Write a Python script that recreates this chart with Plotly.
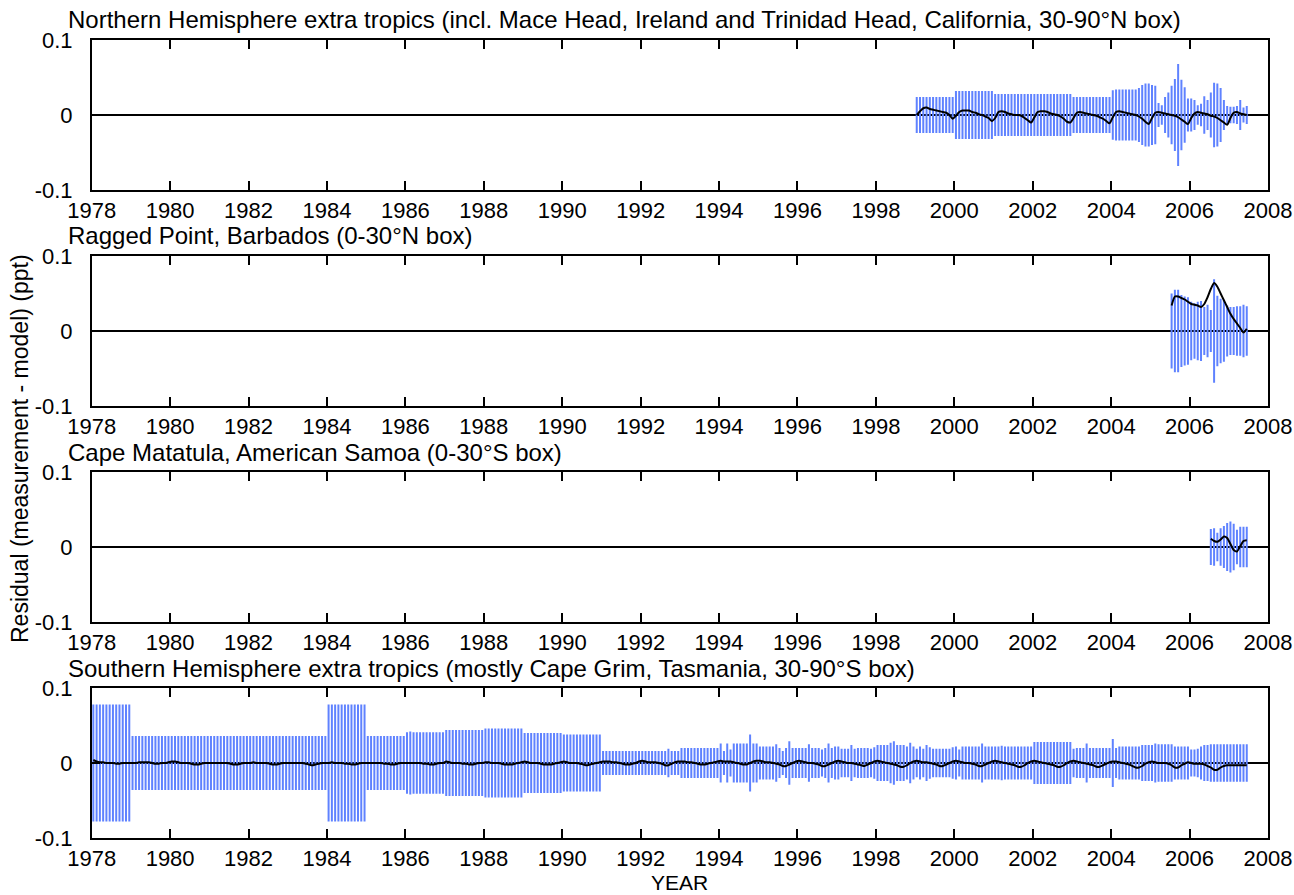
import plotly.graph_objects as go

# ---------------- data (residuals and error half-widths, units of 0.001 ppt) ----------------
X_TICKS = list(range(1978, 2009, 2))
Y_TICKS = [-0.1, 0, 0.1]
Y_TICK_TEXT = ["-0.1", "0", "0.1"]

titles = [
    "Northern Hemisphere extra tropics (incl. Mace Head, Ireland and Trinidad Head, California, 30-90°N box)",
    "Ragged Point, Barbados (0-30°N box)",
    "Cape Matatula, American Samoa (0-30°S box)",
    "Southern Hemisphere extra tropics (mostly Cape Grim, Tasmania, 30-90°S box)",
]

# Panel 1: NH extra tropics, monthly from Jan 1999
nh_start = (1999, 1)
nh_err = [
    24, 24, 24, 24, 24, 24, 24, 24, 24, 24, 24, 24,
    32, 32, 32, 32, 32, 32, 32, 32, 32, 32, 32, 32,
    28, 28, 28, 28, 28, 28, 28, 28, 28, 28, 28, 28,
    28, 28, 28, 28, 28, 28, 28, 28, 28, 28, 28, 28,
    24, 24, 24, 24, 24, 24, 24, 24, 24, 24, 24, 24,
    33, 34, 34, 34, 34, 34, 34, 34, 36, 40, 42, 42,
    40, 39, 16, 13, 24, 30, 39, 48, 68, 47, 37, 22,
    22, 20, 13, 15, 25, 20, 30, 43, 42, 36, 20, 12,
    11, 11, 12, 20, 10, 12,
]
nh_res = [
    0, 5, 9, 10, 8, 7, 6, 5, 4, 3, 0, -5,
    -1, 4, 6, 6, 6, 4, 3, 1, 0, -2, -4, -8,
    -4, 4, 5, 4, 2, 1, 0, 0, -1, -4, -7, -10,
    -3, 4, 5, 5, 4, 2, 1, 0, -2, -5, -9, -10,
    -4, 3, 4, 3, 2, 1, 0, -1, -3, -5, -8, -11,
    -3, 4, 5, 4, 3, 2, 1, 0, -2, -5, -9, -12,
    -4, 3, 4, 3, 2, 1, 0, -1, -3, -6, -9, -12,
    -4, 2, 4, 3, 2, 1, -1, -2, -4, -7, -10, -13,
    -4, 3, 4, 2, 1, 0,
]

# Panel 2: Ragged Point, monthly from Jul 2005
rp_start = (2005, 7)
rp_err = [50, 55, 55, 48, 46, 45, 39, 37, 39, 40, 32, 35,
          28, 69, 47, 43, 41, 34, 32, 32, 33, 33, 35, 33]
rp_res = [34, 46, 46, 44, 42, 39, 36, 35, 34, 32, 36, 45,
          56, 64, 59, 50, 41, 32, 23, 16, 10, 4, -2, 3]

# Panel 3: Cape Matatula, monthly from Jul 2006
cm_start = (2006, 7)
cm_err = [24, 25, 19, 25, 28, 32, 34, 31, 23, 27, 27, 27]
cm_res = [11, 8, 7, 10, 14, 12, 4, -4, -6, 1, 8, 9]

# Panel 4: SH extra tropics, monthly from Jan 1978
sh_start = (1978, 1)
sh_err = [
    78, 78, 78, 78, 78, 78, 78, 78, 78, 78, 78, 78,   # 1978
    36, 36, 36, 36, 36, 36, 36, 36, 36, 36, 36, 36,   # 1979
    36, 36, 36, 36, 36, 36, 36, 36, 36, 36, 36, 36,   # 1980
    36, 36, 36, 36, 36, 36, 36, 36, 36, 36, 36, 36,   # 1981
    36, 36, 36, 36, 36, 36, 36, 36, 36, 36, 36, 36,   # 1982
    36, 36, 36, 36, 36, 36, 36, 36, 36, 36, 36, 36,   # 1983
    78, 78, 78, 78, 78, 78, 78, 78, 78, 78, 78, 78,   # 1984
    36, 36, 36, 36, 36, 36, 36, 36, 36, 36, 36, 36,   # 1985
    41, 42, 41, 41, 41, 41, 41, 41, 41, 41, 41, 41,   # 1986
    44, 44, 44, 44, 44, 44, 44, 44, 44, 44, 44, 44,   # 1987
    46, 46, 46, 46, 46, 46, 46, 46, 46, 46, 46, 46,   # 1988
    40, 40, 40, 40, 40, 40, 40, 40, 40, 40, 40, 40,   # 1989
    38, 38, 38, 38, 38, 38, 38, 38, 38, 38, 38, 38,   # 1990
    16, 16, 16, 16, 16, 16, 16, 16, 16, 16, 16, 16,   # 1991
    16, 16, 16, 16, 16, 16, 16, 16, 19, 16, 16, 16,   # 1992
    20, 20, 20, 20, 20, 20, 20, 20, 20, 20, 20, 20,   # 1993
    26, 16, 26, 18, 26, 26, 26, 26, 26, 38, 26, 26,   # 1994
    22, 22, 22, 22, 22, 25, 20, 16, 20, 29, 20, 20,   # 1995
    20, 20, 20, 25, 20, 20, 20, 18, 20, 26, 20, 22,   # 1996
    22, 19, 19, 19, 24, 19, 20, 20, 20, 20, 19, 21,   # 1997
    24, 24, 24, 24, 27, 29, 24, 24, 24, 22, 27, 22,   # 1998
    19, 22, 19, 24, 21, 19, 19, 19, 19, 19, 19, 21,   # 1999
    22, 18, 22, 22, 22, 22, 22, 22, 26, 22, 22, 22,   # 2000
    22, 22, 23, 22, 22, 22, 22, 22, 22, 22, 22, 22,   # 2001
    28, 28, 28, 28, 28, 28, 28, 28, 28, 28, 28, 28,   # 2002
    19, 20, 20, 20, 26, 20, 20, 20, 20, 20, 20, 20,   # 2003
    32, 20, 22, 22, 22, 22, 22, 22, 22, 24, 24, 24,   # 2004
    24, 26, 25, 25, 25, 25, 25, 22, 22, 22, 22, 22,   # 2005
    18, 18, 19, 22, 24, 24, 25, 25, 25, 25, 25, 25,   # 2006
    25, 25, 25, 25, 25, 25,                           # 2007
]
sh_res = [
    4, 2, 1, 1, 0, 0, 0, -1, -1, 0, 0, 0,      # 1978
    0, 0, 1, 1, 1, 1, 0, -1, -1, 0, 0, 1,      # 1979
    2, 2, 1, 0, 0, 0, -1, -2, -2, -1, 0, 0,    # 1980
    0, 0, 0, 0, 0, 0, -1, -2, -2, -1, 0, 0,    # 1981
    0, 1, 0, 0, 0, 0, -1, -2, -2, -1, 0, 0,    # 1982
    0, 0, 0, 0, 0, -1, -2, -3, -2, -1, 0, 0,   # 1983
    0, 1, 0, 0, 0, -1, -1, -2, -2, -1, 0, 0,   # 1984
    0, 0, 0, 0, 0, -1, -1, -2, -2, -1, 0, 0,   # 1985
    0, 0, 0, 0, 0, -1, -1, -2, -2, -1, 0, 0,   # 1986
    2, 1, 0, 0, 0, -1, -1, -2, -2, -1, 0, 0,   # 1987
    1, 1, 0, 0, 0, -1, -2, -2, -2, -1, 0, 1,   # 1988
    2, 1, 0, 0, 0, -1, -2, -2, -2, -1, 0, 1,   # 1989
    2, 1, 0, 0, 0, -1, -2, -3, -2, -1, 0, 1,   # 1990
    2, 2, 2, 1, 1, 0, -1, -2, -2, -1, 0, 2,    # 1991
    3, 2, 1, 1, 1, 0, -1, -3, -3, -1, 1, 2,    # 1992
    2, 2, 1, 1, 0, -1, -2, -2, -1, 0, 1, 2,    # 1993
    3, 2, 2, 2, 1, 0, -1, -2, -2, 0, 2, 3,     # 1994
    3, 2, 1, 1, 0, -1, -2, -4, -4, -2, 0, 2,   # 1995
    3, 2, 1, 0, 0, -1, -2, -4, -4, -2, 0, 2,   # 1996
    3, 2, 1, 0, 0, -1, -2, -3, -4, -2, 0, 2,   # 1997
    3, 2, 1, 0, -1, -2, -3, -5, -5, -3, 0, 2,  # 1998
    3, 2, 1, 1, 0, -1, -2, -4, -4, -2, 0, 2,   # 1999
    3, 2, 1, 0, 0, -1, -2, -4, -4, -2, 0, 2,   # 2000
    3, 2, 1, 0, -1, -2, -3, -5, -5, -3, 0, 2,  # 2001
    3, 2, 1, 0, -1, -2, -3, -5, -5, -3, 0, 2,  # 2002
    3, 2, 1, 0, -1, -2, -3, -5, -5, -3, -1, 1, # 2003
    2, 2, 1, 0, -1, -2, -4, -6, -6, -4, -1, 1, # 2004
    2, 1, 0, 0, 0, -1, -3, -6, -6, -3, -1, 1,  # 2005
    0, -1, -1, -1, -2, -4, -6, -9, -9, -6, -4, -3,  # 2006
    -3, -3, -3, -3, -3, -3,                    # 2007
]

# ---------------- styling ----------------
BAR_COLOR = "#5f82ff"
FONT = "Liberation Sans, Arial, Helvetica, sans-serif"
FS_TITLE = 24
FS_TICK = 22
FS_YLAB = 23
FS_XLAB = 21

W, H = 1294, 895


def px(sx):
    return sx / W


def py(sy):
    return 1 - sy / H


X_L, X_R = 91.7, 1268.0           # px of plot left/right
PANEL_TOPS = [40, 256, 472, 688]  # px of plot tops
PANEL_H = 150
TITLE_Y = [20, 236, 452, 668]


def month_axis(start, n):
    y0, m0 = start
    return [y0 + (m0 - 1 + i + 0.5) / 12.0 for i in range(n)]


panels = [
    (nh_start, nh_err, nh_res),
    (rp_start, rp_err, rp_res),
    (cm_start, cm_err, cm_res),
    (sh_start, sh_err, sh_res),
]

fig = go.Figure()
for i, (start, err, res) in enumerate(panels):
    k = "" if i == 0 else str(i + 1)
    xs = month_axis(start, len(err))
    fig.add_trace(go.Scatter(
        x=xs, y=[0.0] * len(xs), mode="markers",
        marker=dict(size=0.1, color="rgba(0,0,0,0)"),
        error_y=dict(type="data", symmetric=True, array=[e * 1e-3 for e in err],
                     thickness=2, width=0, color=BAR_COLOR),
        xaxis="x" + k, yaxis="y" + k, showlegend=False, hoverinfo="skip",
    ))
    fig.add_trace(go.Scatter(
        x=xs, y=[r * 1e-3 for r in res], mode="lines",
        line=dict(color="black", width=2, shape="spline", smoothing=0.6),
        xaxis="x" + k, yaxis="y" + k, showlegend=False,
    ))

layout = dict(
    width=W, height=H, margin=dict(l=0, r=0, t=0, b=0, autoexpand=False),
    paper_bgcolor="white", plot_bgcolor="white",
    font=dict(family=FONT, size=FS_TICK, color="black"),
    showlegend=False,
)
annotations = []
for i in range(4):
    k = "" if i == 0 else str(i + 1)
    top = PANEL_TOPS[i]
    dom_y = [py(top + PANEL_H), py(top)]
    layout["xaxis" + k] = dict(
        domain=[px(X_L), px(X_R)], range=[1978, 2008], automargin=False,
        tickmode="array", tickvals=X_TICKS, ticktext=[str(t) for t in X_TICKS],
        ticks="inside", ticklen=9, tickwidth=1.5, tickcolor="black",
        showline=True, linecolor="black", linewidth=1.5, mirror="ticks",
        showgrid=False, zeroline=False, anchor="y" + k,
        tickfont=dict(family=FONT, size=FS_TICK), ticklabelstandoff=0,
        ticklabeloverflow="allow",
    )
    layout["yaxis" + k] = dict(
        domain=dom_y, range=[-0.1, 0.1], automargin=False,
        tickmode="array", tickvals=Y_TICKS, ticktext=Y_TICK_TEXT,
        ticks="inside", ticklen=9, tickwidth=1.5, tickcolor="black",
        showline=True, linecolor="black", linewidth=1.5, mirror="ticks",
        showgrid=False, zeroline=True, zerolinecolor="black", zerolinewidth=1.5,
        anchor="x" + k, tickfont=dict(family=FONT, size=FS_TICK), ticklabelstandoff=13,
        ticklabeloverflow="allow",
    )
    annotations.append(dict(
        text=titles[i], x=px(66), y=py(TITLE_Y[i]), xref="paper", yref="paper",
        xanchor="left", yanchor="middle", showarrow=False,
        font=dict(family=FONT, size=FS_TITLE, color="black"),
    ))

annotations.append(dict(
    text="Residual (measurement - model) (ppt)", x=px(20), y=py(449),
    xref="paper", yref="paper", xanchor="center", yanchor="middle",
    textangle=-90, showarrow=False, font=dict(family=FONT, size=FS_YLAB, color="black"),
))
annotations.append(dict(
    text="YEAR", x=px((X_L + X_R) / 2), y=py(882), xref="paper", yref="paper",
    xanchor="center", yanchor="middle", showarrow=False,
    font=dict(family=FONT, size=FS_XLAB, color="black"),
))
layout["annotations"] = annotations
fig.update_layout(**layout)
fig.write_html(
    "out.html",
    config={"displayModeBar": False},
    post_script="document.body.style.margin='0';document.body.style.overflow='hidden';",
)
